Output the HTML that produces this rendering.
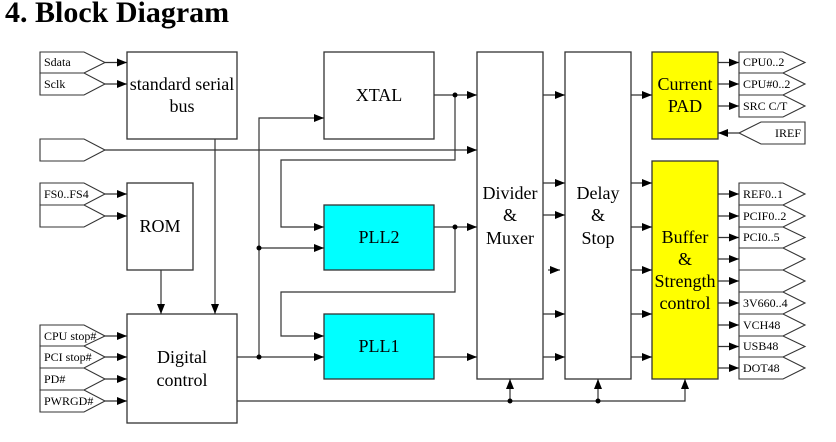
<!DOCTYPE html>
<html><head><meta charset="utf-8"><style>
html,body{margin:0;padding:0;background:#fff;}
svg{display:block;font-family:"Liberation Serif","DejaVu Serif",serif;}
svg text{font-family:"Liberation Serif","DejaVu Serif",serif;fill:#000;}
.b{fill:#fff;stroke:#333;stroke-width:1.3;}
.c{fill:#00ffff;stroke:#333;stroke-width:1.3;}
.y{fill:#ffff00;stroke:#333;stroke-width:1.3;}
.l{fill:none;stroke:#333;stroke-width:1.2;}
.p{fill:#fff;stroke:#333;stroke-width:1.1;}
.big{font-size:18px;}
.sm{font-size:12px;}
</style></head><body>
<svg width="836" height="442" viewBox="0 0 836 442" xmlns="http://www.w3.org/2000/svg" font-family="Liberation Serif, serif">
<defs>
<marker id="a" markerWidth="10" markerHeight="8" refX="10" refY="4" orient="auto" markerUnits="userSpaceOnUse">
<path d="M0,0 L10,4 L0,8 z" fill="#000"/></marker>
</defs>
<text x="5" y="22" font-size="30" font-weight="bold" font-family="Liberation Serif, serif">4. Block Diagram</text>

<g class="p">
<path d="M40,52 H84 L105,62.5 L84,73 H40 Z"/>
<path d="M40,73 H84 L105,84 L84,95 H40 Z"/>
<path d="M40,139 H84 L105,150 L84,161 H40 Z"/>
<path d="M40,183 H84 L105,194 L84,205 H40 Z"/>
<path d="M40,205 H84 L105,216 L84,227 H40 Z"/>
<path d="M40,325 H84 L105,336 L84,346 H40 Z"/>
<path d="M40,346 H84 L105,357 L84,368 H40 Z"/>
<path d="M40,368 H84 L105,379 L84,390 H40 Z"/>
<path d="M40,390 H84 L105,401 L84,412 H40 Z"/>
</g>
<g class="sm" font-family="Liberation Serif, serif">
<text x="44" y="66">Sdata</text>
<text x="44" y="88">Sclk</text>
<text x="44" y="198">FS0..FS4</text>
<text x="44" y="340">CPU stop#</text>
<text x="44" y="361">PCI stop#</text>
<text x="44" y="383">PD#</text>
<text x="44" y="405">PWRGD#</text>
</g>

<rect class="b" x="127" y="52" width="110" height="87"/>
<rect class="b" x="127" y="183" width="66" height="87"/>
<rect class="b" x="127" y="314" width="110" height="109"/>
<rect class="b" x="324" y="52" width="110" height="87"/>
<rect class="c" x="324" y="205" width="110" height="65"/>
<rect class="c" x="324" y="314" width="110" height="65"/>
<rect class="b" x="477" y="52" width="66" height="327"/>
<rect class="b" x="565" y="52" width="66" height="327"/>
<rect class="y" x="652" y="52" width="66" height="87"/>
<rect class="y" x="652" y="161" width="66" height="218"/>

<g class="big" text-anchor="middle" font-family="Liberation Serif, serif">
<text x="182" y="90">standard serial</text>
<text x="182" y="112">bus</text>
<text x="160" y="232">ROM</text>
<text x="182" y="363">Digital</text>
<text x="182" y="386">control</text>
<text x="379" y="101">XTAL</text>
<text x="379" y="243">PLL2</text>
<text x="379" y="352">PLL1</text>
<text x="510" y="199">Divider</text>
<text x="510" y="221">&amp;</text>
<text x="510" y="244">Muxer</text>
<text x="598" y="199">Delay</text>
<text x="598" y="221">&amp;</text>
<text x="598" y="244">Stop</text>
<text x="685" y="90">Current</text>
<text x="685" y="112">PAD</text>
<text x="685" y="243">Buffer</text>
<text x="685" y="265">&amp;</text>
<text x="685" y="287">Strength</text>
<text x="685" y="309">control</text>
</g>

<g class="l" marker-end="url(#a)">
<path d="M105,62.5 H127"/>
<path d="M105,84 H127"/>
<path d="M105,150 H477"/>
<path d="M105,194 H127"/>
<path d="M105,216 H127"/>
<path d="M105,336 H127"/>
<path d="M105,357 H127"/>
<path d="M105,379 H127"/>
<path d="M105,401 H127"/>
<path d="M161,270 V314"/>
<path d="M215,139 V314"/>
<path d="M259,357 V118 H324"/>
<path d="M259,248 H324"/>
<path d="M237,357 H324"/>
<path d="M434,95 H477"/>
<path d="M455,95 V160 H281 V227 H324"/>
<path d="M434,227 H477"/>
<path d="M455,227 V292 H281 V336 H324"/>
<path d="M434,357 H477"/>
<path d="M510,401 V379"/>
<path d="M598,401 V379"/>
<path d="M237,401 H685 V379"/>
</g>
<g fill="#000">
<circle cx="259" cy="248" r="2.5"/><circle cx="259" cy="357" r="2.5"/>
<circle cx="455" cy="95" r="2.5"/><circle cx="455" cy="227" r="2.5"/>
<circle cx="510" cy="401" r="2.5"/><circle cx="598" cy="401" r="2.5"/>
</g>

<g class="l" marker-end="url(#a)">
<path d="M543,95 H565"/><path d="M543,183 H565"/><path d="M543,215 H565"/>
<path d="M548,270 H560"/><path d="M543,314 H565"/><path d="M543,357 H565"/>
<path d="M631,95 H652"/><path d="M631,183 H652"/><path d="M631,227 H652"/>
<path d="M631,270 H652"/><path d="M631,314 H652"/><path d="M631,357 H652"/>
<path d="M718,62.5 H739"/><path d="M718,84 H739"/><path d="M718,106 H739"/>
<path d="M739,133 H718"/>
<path d="M718,194 H739"/><path d="M718,216 H739"/><path d="M718,237.5 H739"/>
<path d="M718,259 H739"/><path d="M718,281 H739"/><path d="M718,303 H739"/>
<path d="M718,325 H739"/><path d="M718,346.5 H739"/><path d="M718,368 H739"/>
</g>

<g class="p">
<path d="M739,52 H783 L805,62.5 L783,73 H739 Z"/>
<path d="M739,73 H783 L805,84 L783,95 H739 Z"/>
<path d="M739,95 H783 L805,106 L783,117 H739 Z"/>
<path d="M761,122 H805 V144 H761 L739,133 Z"/>
<path d="M739,183 H783 L805,194 L783,205 H739 Z"/>
<path d="M739,205 H783 L805,216 L783,227 H739 Z"/>
<path d="M739,227 H783 L805,237.5 L783,248 H739 Z"/>
<path d="M739,248 H783 L805,259 L783,270 H739 Z"/>
<path d="M739,270 H783 L805,281 L783,292 H739 Z"/>
<path d="M739,292 H783 L805,303 L783,314 H739 Z"/>
<path d="M739,314 H783 L805,325 L783,336 H739 Z"/>
<path d="M739,336 H783 L805,346.5 L783,357 H739 Z"/>
<path d="M739,357 H783 L805,368 L783,379 H739 Z"/>
</g>
<g class="sm" font-family="Liberation Serif, serif">
<text x="743" y="66">CPU0..2</text>
<text x="743" y="88">CPU#0..2</text>
<text x="743" y="110">SRC C/T</text>
<text x="801" y="137" text-anchor="end">IREF</text>
<text x="743" y="198">REF0..1</text>
<text x="743" y="220">PCIF0..2</text>
<text x="743" y="241">PCI0..5</text>
<text x="743" y="307">3V660..4</text>
<text x="743" y="329">VCH48</text>
<text x="743" y="350">USB48</text>
<text x="743" y="372">DOT48</text>
</g>
</svg>
</body></html>
